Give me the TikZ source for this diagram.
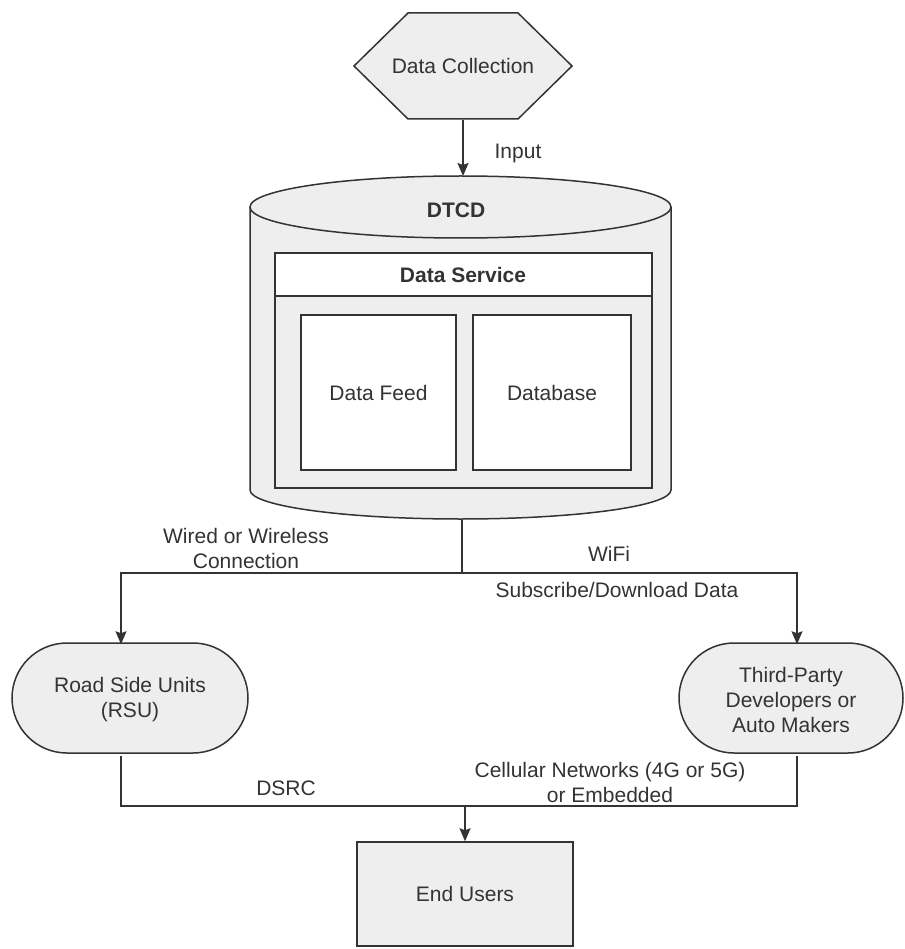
\documentclass[tikz,border=0pt]{standalone}
\usepackage{fontspec}
\setmainfont{Liberation Sans}
\usetikzlibrary{arrows.meta}
\definecolor{ln}{HTML}{333333}
\definecolor{fl}{HTML}{EEEEEE}
\definecolor{tx}{HTML}{333333}
\newcommand\pillshape[4]{\filldraw[fill=fl] (#1+55,#2) -- (#3-55,#2) .. controls (#3-24.6,#2) and (#3,#2+24.6) .. (#3,#2+55) .. controls (#3,#4-24.6) and (#3-24.6,#4) .. (#3-55,#4) -- (#1+55,#4) .. controls (#1+24.6,#4) and (#1,#4-24.6) .. (#1,#4-55) .. controls (#1,#2+24.6) and (#1+24.6,#2) .. cycle;}
\begin{document}
\begin{tikzpicture}[x=1pt,y=-1pt, line width=1.5pt, draw=ln,
 lbl/.style={font=\fontsize{21}{25}\selectfont, text=tx, align=center, inner sep=0pt},
 bold/.style={lbl, font=\fontsize{21}{25}\selectfont\bfseries},
 box/.style={lbl, draw=ln, line width=1.5pt},
 arr/.style={-{Stealth[length=13pt,width=11pt,inset=2pt]}, line width=1.4pt}]
\useasboundingbox (0,0) rectangle (904,949);
% hexagon
\filldraw[fill=fl] (408,13) -- (518,13) -- (572,66) -- (518,119) -- (408,119) -- (354,66) -- cycle;
\node[lbl, minimum width=218pt, minimum height=106pt] (hex) at (463,66) {Data Collection};
% cylinder
\fill[fl] (250,207) -- (250,490) arc[start angle=180,end angle=0,x radius=210.5,y radius=29] -- (671,207) -- cycle;
\draw (250,207) -- (250,490) arc[start angle=180,end angle=0,x radius=210.5,y radius=29] -- (671,207);
\filldraw[fill=fl] (460.5,207) ellipse[x radius=210.5, y radius=31];
\coordinate (cyltop) at (460.5,176);
\coordinate (cylbot) at (462,519);
\node[bold] (dtcd) at (456,210) {DTCD};
% container
\filldraw[fill=fl] (275,253) rectangle (652,488);
\filldraw[fill=white] (275,253) rectangle (652,296);
\node[bold] (ds) at (463,275) {Data Service};
\node[box, fill=white, minimum width=155pt, minimum height=155pt] (feed) at (378.5,392.5) {Data Feed};
\node[box, fill=white, minimum width=158pt, minimum height=155pt] (db) at (552,392.5) {Database};
% rounded nodes
\pillshape{12}{643}{248}{753}
\node[lbl, minimum width=236pt, minimum height=110pt] (rsu) at (130,700) {Road Side Units\\(RSU)};
\pillshape{679}{643}{903}{753}
\node[lbl, minimum width=224pt, minimum height=110pt] (tpd) at (791,700) {Third-Party\\Developers or\\Auto Makers};
% end users
\node[box, fill=fl, minimum width=216pt, minimum height=104pt] (end) at (465,894) {End Users};
% connectors
\draw[arr] (hex.south) -- (hex.south |- cyltop);
\coordinate (split) at (462,573);
\draw (cylbot) -- (split);
\draw[arr] (split) -| ([xshift=-9pt]rsu.north);
\draw[arr] (split) -| ([xshift=6pt]tpd.north);
\coordinate (join) at (465,806);
\draw ([xshift=-9pt]rsu.south) |- (join) -| ([xshift=6pt]tpd.south);
\draw[arr] (join) -- (end.north);
% labels
\node[lbl] (lin) at (518,153) {Input};
\node[lbl] (lwired) at (246,548) {Wired or Wireless\\Connection};
\node[lbl] (lwifi) at (609,554) {WiFi};
\node[lbl] (lsub) at (617,590) {Subscribe/Download Data};
\node[lbl] (ldsrc) at (286,788) {DSRC};
\node[lbl] (lcell) at (610,782) {Cellular Networks (4G or 5G)\\or Embedded};
\end{tikzpicture}
\end{document}
